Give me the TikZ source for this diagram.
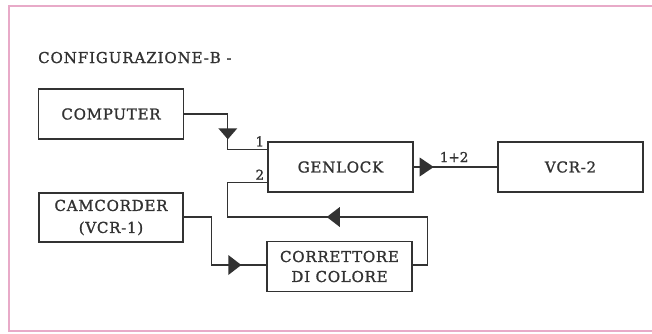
\documentclass[tikz,border=0pt]{standalone}
\usepackage{fontspec}
\setmainfont{DejaVu Serif}
\newfontfamily\boxfont[LetterSpace=5,FakeBold=1.3]{DejaVu Serif}
\newfontfamily\titlefont[LetterSpace=6,FakeBold=1.0]{DejaVu Serif}
\newfontfamily\numfont[FakeBold=1.3]{DejaVu Serif}
\usetikzlibrary{calc}
\definecolor{ink}{RGB}{50,50,50}
\definecolor{framepink}{RGB}{232,170,200}
\tikzset{
  blk/.style={draw=ink, line width=1.4pt, rectangle, inner sep=0pt,
    minimum width=145pt, minimum height=50pt, align=center,
    font=\boxfont\fontsize{15}{20}\selectfont, text=ink},
  wire/.style={draw=ink, line width=1.3pt},
  lbl/.style={font=\numfont\fontsize{13.5}{15}\selectfont, text=ink, inner sep=0pt},
}
% filled triangle: \tri{tip}{direction vector to base}{half-width vector}
\newcommand{\tri}[3]{\fill[ink] (#1) -- ($(#1)+(#2)+(#3)$) -- ($(#1)+(#2)-(#3)$) -- cycle;}
\begin{document}
\begin{tikzpicture}[x=1pt,y=-1pt]
\useasboundingbox (0,0) rectangle (652,333);
\fill[white] (0,0) rectangle (652,333);
\draw[framepink, line width=1.6pt] (664,6) -- (9,6) -- (9,331) -- (664,331);

\node[anchor=base west, inner sep=0pt, font=\titlefont\fontsize{15}{17}\selectfont, text=ink] (title) at (38,63) {CONFIGURAZIONE-B -};

\node[blk] (computer) at (111,114) {COMPUTER};
\node[blk] (genlock) at (340.5,167) {GENLOCK};
\node[blk] (vcr) at (570.5,167) {VCR-2};
\node[blk, minimum width=144pt, minimum height=49pt, font=\boxfont\fontsize{15}{22}\selectfont] (cam) at (111,217.5) {CAMCORDER\\(VCR-1)};
\node[blk] (corr) at (339.5,266.5) {CORRETTORE\\DI COLORE};

\coordinate (in1) at ($(genlock.north west)+(0,8)$);
\coordinate (in2) at ($(genlock.south west)+(0,-10)$);
\coordinate (j1) at ($(in1)+(-39.5,0)$);
\coordinate (j2) at ($(in2)+(-39.5,0)$);
\coordinate (corrin) at ($(corr.west)+(0,-1.5)$);
\coordinate (corrout) at ($(corr.east)+(0,-1.5)$);
\coordinate (camout) at ($(cam.east)+(0,-0.5)$);

% computer -> genlock input 1
\draw[wire] (computer.east) -| (j1) -- (in1);
\tri{$(j1)+(0,-10)$}{0,-11}{9.5,0}
% genlock -> VCR-2
\draw[wire] (genlock.east) -- (vcr.west);
\tri{$(genlock.east)+(20,0)$}{-14,0}{0,9.5}
% camcorder -> correttore
\draw[wire] (camout) -| ($(corrin)+(-55,0)$) -- (corrin);
\tri{$(corrin)+(-25,0)$}{-13,0}{0,10}
% correttore -> genlock input 2
\draw[wire] (corrout) -- ++(15,0) |- (camout -| j2) -- (j2) -- (in2);
\tri{$(camout -| j2)+(99,0)$}{13,0}{0,10}

\node[lbl, anchor=base east] (l1) at ($(in1)+(-3,-3)$) {1};
\node[lbl, anchor=base east] (l2) at ($(in2)+(-3,-3)$) {2};
\node[lbl, anchor=base west] (l12) at ($(genlock.east)+(26,-5)$) {1+2};
\end{tikzpicture}
\end{document}
